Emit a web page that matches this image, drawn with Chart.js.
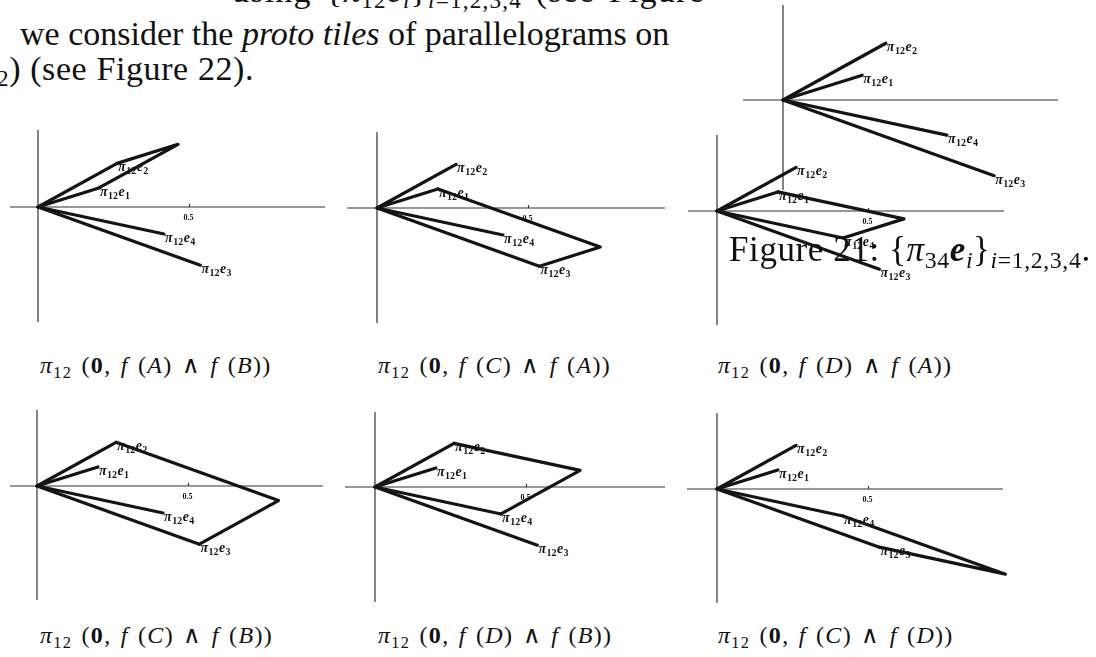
<!DOCTYPE html>
<html><head><meta charset="utf-8">
<script src="https://cdn.jsdelivr.net/npm/chart.js@4.4.0/dist/chart.umd.min.js"></script>
<style>
html,body{margin:0;padding:0;background:#fff;width:1096px;height:657px;overflow:hidden;position:relative;font-family:"Liberation Serif",serif;color:#111;}
.box{position:absolute;}
.txt{position:absolute;white-space:nowrap;}
sub{font-size:0.68em;vertical-align:-0.28em;line-height:0}
i{font-style:italic}
</style></head><body>
<div id="root"></div>
<script>
// ---------------- data ----------------
const vectorNames = ['e1', 'e2', 'e3', 'e4'];
const vecX = [0.201, 0.261, 0.536, 0.416];
const vecY = [0.063, 0.144, -0.192, -0.089];
const tileLetters = ['A', 'B', 'C', 'D'];          // f(A)=e1, f(B)=e2, f(C)=e3, f(D)=e4
const tileFirst  = [0, 2, 3, 2, 3, 2];
const tileSecond = [1, 0, 0, 1, 1, 3];
const tickValues = [0.5];
const tickLabels = ['0.5'];

// ---------------- layout (positions only) ----------------
const panelLayout = [
  {ox: 38.3,  oy: 207.3, l: 28, r: 287, t: 77, b: 115, ppu: 303, tick: true},
  {ox: 376.7, oy: 208.3, l: 30, r: 288, t: 76, b: 115, ppu: 303, tick: true},
  {ox: 716.7, oy: 210.7, l: 29, r: 287, t: 76, b: 114, ppu: 303, tick: true},
  {ox: 36.7,  oy: 486.0, l: 27, r: 286, t: 76, b: 114, ppu: 303, tick: true},
  {ox: 375.0, oy: 487.3, l: 30, r: 290, t: 75, b: 115, ppu: 303, tick: true},
  {ox: 716.7, oy: 489.3, l: 30, r: 286, t: 76, b: 114, ppu: 303, tick: true}
];
const fig21Layout = {ox: 783.3, oy: 100, l: 40, r: 275, t: 95, b: 90, ppu: 394, tick: false};
const captionPos = [[40, 373], [378, 373], [718, 373], [40, 643], [378, 643], [718, 643]];

const root = document.getElementById('root');
const INK = '#141414';

const axesPlugin = {
  id: 'axesPlugin',
  beforeDatasetsDraw(chart, args, opts) {
    const {ctx, chartArea: a, scales: {x, y}} = chart;
    const x0 = x.getPixelForValue(0), y0 = y.getPixelForValue(0);
    ctx.save();
    ctx.strokeStyle = '#333';
    ctx.lineWidth = 1.2;
    ctx.beginPath();
    ctx.moveTo(a.left, y0); ctx.lineTo(a.right, y0);
    ctx.moveTo(x0, a.top); ctx.lineTo(x0, a.bottom);
    ctx.stroke();
    if (opts.tick) {
      ctx.fillStyle = INK;
      ctx.font = 'bold 8px "Liberation Serif"';
      ctx.textAlign = 'center';
      ctx.textBaseline = 'alphabetic';
      tickValues.forEach((v, i) => {
        const px = x.getPixelForValue(v);
        ctx.beginPath(); ctx.moveTo(px, y0); ctx.lineTo(px, y0 - 3); ctx.stroke();
        ctx.fillText(tickLabels[i], px - 1, y0 + 13);
      });
    }
    ctx.restore();
  }
};

function drawVecLabel(ctx, px, py, name) {
  let cx = px + 1;
  const base = py + 8;
  ctx.fillStyle = INK;
  ctx.textAlign = 'left';
  ctx.textBaseline = 'alphabetic';
  ctx.font = 'italic bold 14px "Liberation Serif"';
  ctx.fillText('π', cx, base); cx += ctx.measureText('π').width + 0.5;
  ctx.font = 'bold 10px "Liberation Serif"';
  ctx.fillText('12', cx, base + 3); cx += ctx.measureText('12').width + 0.5;
  ctx.font = 'italic bold 14px "Liberation Serif"';
  ctx.fillText(name[0], cx, base); cx += ctx.measureText(name[0]).width + 0.3;
  ctx.font = 'bold 10px "Liberation Serif"';
  ctx.fillText(name.slice(1), cx, base + 3);
}

const labelPlugin = {
  id: 'labelPlugin',
  afterDatasetsDraw(chart) {
    const {ctx, scales: {x, y}} = chart;
    ctx.save();
    vectorNames.forEach((n, k) => {
      drawVecLabel(ctx, x.getPixelForValue(vecX[k]), y.getPixelForValue(vecY[k]), n);
    });
    ctx.restore();
  }
};

function seg(points) {
  return {
    data: points, showLine: true, borderColor: INK, borderWidth: 3.2,
    pointRadius: 0, clip: false, borderCapStyle: 'round', borderJoinStyle: 'round', fill: false
  };
}

function makeChart(L, pair) {
  const pad = 14;
  const w = L.l + L.r + 2 * pad, h = L.t + L.b + 2 * pad;
  const div = document.createElement('div');
  div.className = 'box';
  div.style.left = (L.ox - L.l - pad) + 'px';
  div.style.top = (L.oy - L.t - pad) + 'px';
  div.style.width = w + 'px'; div.style.height = h + 'px';
  const cv = document.createElement('canvas');
  cv.width = w; cv.height = h;
  div.appendChild(cv); root.appendChild(div);
  const datasets = vectorNames.map((n, k) => seg([{x: 0, y: 0}, {x: vecX[k], y: vecY[k]}]));
  if (pair) {
    const [a, b] = pair;
    datasets.push(seg([
      {x: vecX[a], y: vecY[a]},
      {x: vecX[a] + vecX[b], y: vecY[a] + vecY[b]},
      {x: vecX[b], y: vecY[b]}
    ]));
  }
  new Chart(cv, {
    type: 'scatter',
    data: {datasets},
    options: {
      responsive: false, animation: false, events: [],
      layout: {padding: pad},
      scales: {
        x: {type: 'linear', display: false, min: -L.l / L.ppu, max: L.r / L.ppu},
        y: {type: 'linear', display: false, min: -L.b / L.ppu, max: L.t / L.ppu}
      },
      plugins: {legend: {display: false}, tooltip: {enabled: false}, axesPlugin: {tick: L.tick}}
    },
    plugins: [axesPlugin, labelPlugin]
  });
}

// Figure 21 (drawn first, behind)
makeChart(fig21Layout, null);
panelLayout.forEach((L, i) => makeChart(L, [tileFirst[i], tileSecond[i]]));

// text helper: place by baseline
function addText(html, x, baseline, fs, extra) {
  const d = document.createElement('div');
  d.className = 'txt';
  d.style.fontSize = fs + 'px';
  d.style.lineHeight = fs + 'px';
  d.style.left = x + 'px';
  d.style.top = (baseline - 0.816 * fs) + 'px';
  if (extra) Object.assign(d.style, extra);
  d.innerHTML = html;
  root.appendChild(d);
  return d;
}

// captions
panelLayout.forEach((L, i) => {
  const A = tileLetters[tileFirst[i]], B = tileLetters[tileSecond[i]];
  addText('<i>π</i><sub>12</sub> (<b>0</b>, <i>f</i> (<i>' + A + '</i>) ∧ <i>f</i> (<i>' + B + '</i>))',
    captionPos[i][0], captionPos[i][1], 24, {letterSpacing: '1.3px', wordSpacing: '2px'});
});

// body text lines
addText('using {<i>π</i><sub>12</sub><i>e<sub>i</sub></i>}<sub><i>i</i>=1,2,3,4</sub> (see Figure', 232, 2, 34, {letterSpacing: '1.2px', wordSpacing: '4px'});
addText('we consider the <i>proto tiles</i> of parallelograms on', 20, 45, 34);
addText('<sub>2</sub>) (see Figure 22).', -3, 80, 34, {letterSpacing: '0.6px'});
addText('Figure 21: {<i>π</i><sub>34</sub><b><i>e</i></b><sub><i>i</i></sub>}<sub><i>i</i>=1,2,3,4</sub>.', 729, 261, 35, {letterSpacing: '0.6px'});
</script>
</body></html>
